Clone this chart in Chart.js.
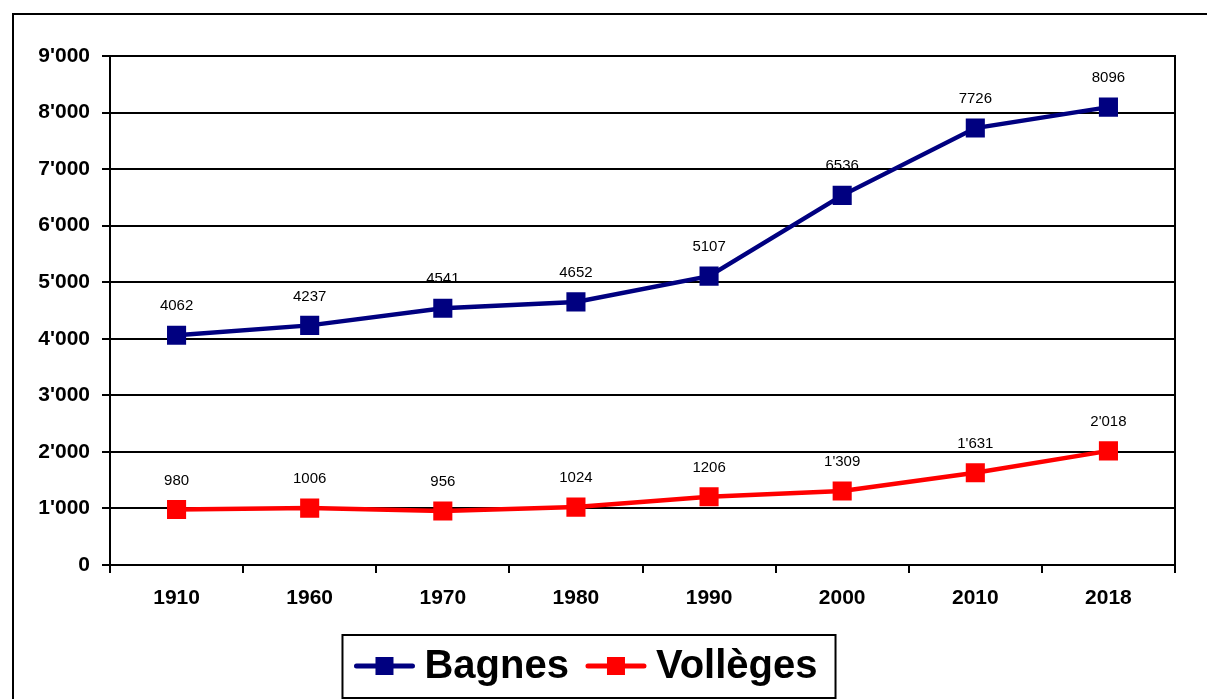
<!DOCTYPE html>
<html lang="fr">
<head>
    <meta charset="UTF-8">
    <title>Bagnes - Vollèges</title>
    <script src="https://cdn.jsdelivr.net/npm/chart.js"></script>
    <style>
        body { margin: 0; background: #fff; }
        canvas { display: block; }
    </style>
</head>
<body>
    <canvas id="popChart" width="1207" height="699"></canvas>

    <script>
        const years = ['1910', '1960', '1970', '1980', '1990', '2000', '2010', '2018'];
        const bagnes = [4062, 4237, 4541, 4652, 5107, 6536, 7726, 8096];
        const volleges = [980, 1006, 956, 1024, 1206, 1309, 1631, 2018];
        const bagnesLabels = ['4062', '4237', '4541', '4652', '5107', '6536', '7726', '8096'];
        const vollegesLabels = ['980', '1006', '956', '1024', '1206', "1'309", "1'631", "2'018"];

        const FONT = '"Liberation Sans", Arial, sans-serif';

        function fmt(v) {
            return String(v).replace(/\B(?=(\d{3})+(?!\d))/g, "'");
        }

        // numbers above each point
        const pointLabels = {
            id: 'pointLabels',
            afterDatasetsDraw(chart) {
                const ctx = chart.ctx;
                ctx.save();
                ctx.font = '15px ' + FONT;
                ctx.fillStyle = '#000';
                ctx.textAlign = 'center';
                ctx.textBaseline = 'middle';
                chart.data.datasets.forEach((ds, i) => {
                    chart.getDatasetMeta(i).data.forEach((pt, j) => {
                        ctx.fillText(ds.valueLabels[j], pt.x, pt.y - 29);
                    });
                });
                ctx.restore();
            }
        };

        // frame, right edge of the plot and boxed legend
        const frame = {
            id: 'frame',
            afterDraw(chart) {
                const ctx = chart.ctx;
                const area = chart.chartArea;
                ctx.save();
                ctx.strokeStyle = '#000';
                ctx.lineWidth = 2;
                ctx.strokeRect(13, 14, 1400, 900);

                ctx.beginPath();
                ctx.moveTo(area.right, area.top - 1);
                ctx.lineTo(area.right, area.bottom + 1);
                ctx.stroke();

                // legend
                ctx.font = 'bold 40px ' + FONT;
                const sym = 60, gapText = 10, gapItem = 17, padL = 12, padR = 18;
                const items = chart.data.datasets.map(ds => ({
                    ds, w: ctx.measureText(ds.label).width
                }));
                let total = padL + padR;
                items.forEach((it, i) => {
                    total += sym + gapText + it.w + (i > 0 ? gapItem : 0);
                });
                const boxLeft = 589 - total / 2;
                const boxTop = 635, boxBottom = 698, cy = 666;
                ctx.lineWidth = 2;
                ctx.strokeRect(boxLeft, boxTop, total, boxBottom - boxTop);

                let x = boxLeft + padL;
                items.forEach((it, i) => {
                    if (i > 0) x += gapItem;
                    ctx.strokeStyle = it.ds.borderColor;
                    ctx.lineWidth = 5;
                    ctx.lineCap = 'round';
                    ctx.beginPath();
                    ctx.moveTo(x + 2, cy);
                    ctx.lineTo(x + sym - 2, cy);
                    ctx.stroke();
                    ctx.fillStyle = it.ds.backgroundColor;
                    ctx.fillRect(x + sym / 2 - 9, cy - 9, 18, 18);
                    x += sym + gapText;
                    ctx.fillStyle = '#000';
                    ctx.textAlign = 'left';
                    ctx.textBaseline = 'middle';
                    ctx.fillText(it.ds.label, x, cy + 1);
                    x += it.w;
                });
                ctx.restore();
            }
        };

        const ctx = document.getElementById('popChart').getContext('2d');
        new Chart(ctx, {
            type: 'line',
            data: {
                labels: years,
                datasets: [
                    {
                        label: 'Bagnes',
                        data: bagnes,
                        valueLabels: bagnesLabels,
                        borderColor: '#000080',
                        backgroundColor: '#000080',
                        borderWidth: 4.5,
                        pointStyle: 'rect',
                        pointRadius: 13.5,
                        pointBorderWidth: 0,
                        tension: 0
                    },
                    {
                        label: 'Vollèges',
                        data: volleges,
                        valueLabels: vollegesLabels,
                        borderColor: '#ff0000',
                        backgroundColor: '#ff0000',
                        borderWidth: 4.5,
                        pointStyle: 'rect',
                        pointRadius: 13.5,
                        pointBorderWidth: 0,
                        tension: 0
                    }
                ]
            },
            options: {
                responsive: false,
                animation: false,
                layout: { padding: { left: 13, right: 32, top: 56, bottom: 94 } },
                plugins: {
                    legend: { display: false },
                    tooltip: { enabled: false }
                },
                scales: {
                    x: {
                        offset: true,
                        grid: {
                            offset: true,
                            drawOnChartArea: false,
                            drawTicks: true,
                            tickLength: 8,
                            color: '#000',
                            lineWidth: 2
                        },
                        border: { display: true, color: '#000', width: 2 },
                        ticks: {
                            color: '#000',
                            padding: 13,
                            font: { family: FONT, size: 21, weight: 'bold' }
                        },
                        afterFit(scale) { scale.height = 40; }
                    },
                    y: {
                        min: 0,
                        max: 9000,
                        grid: {
                            color: '#000',
                            lineWidth: 2,
                            drawTicks: true,
                            tickLength: 8
                        },
                        border: { display: true, color: '#000', width: 2 },
                        ticks: {
                            stepSize: 1000,
                            color: '#000',
                            padding: 12,
                            font: { family: FONT, size: 21, weight: 'bold' },
                            callback: v => fmt(v)
                        },
                        afterFit(scale) { scale.width = 97; }
                    }
                }
            },
            plugins: [pointLabels, frame]
        });
    </script>
</body>
</html>
